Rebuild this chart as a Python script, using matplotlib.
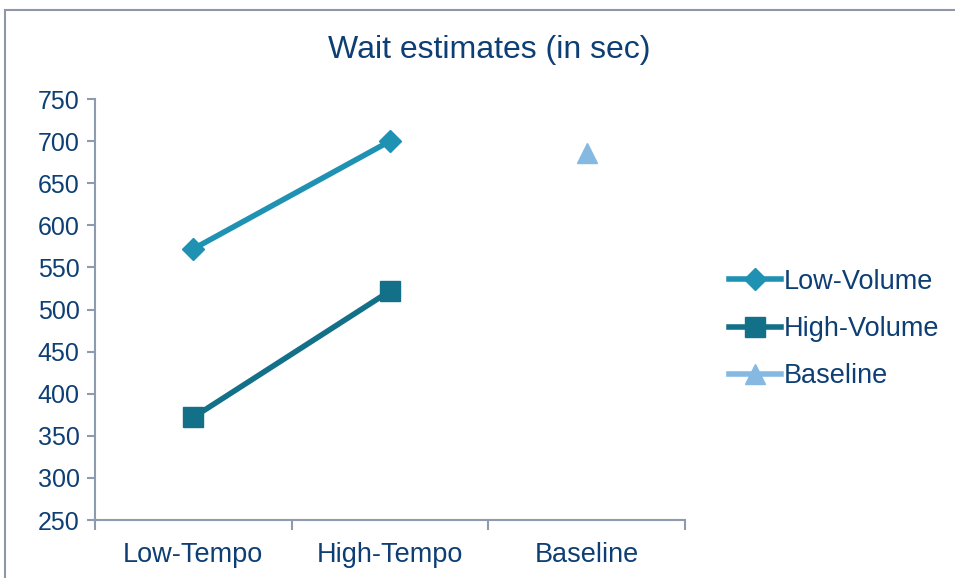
import matplotlib
matplotlib.use("Agg")
import matplotlib.pyplot as plt
from matplotlib.patches import Rectangle

categories = ["Low-Tempo", "High-Tempo", "Baseline"]
low_volume = [572, 700]
high_volume = [372, 522]
baseline = [686]
yticks = [250, 300, 350, 400, 450, 500, 550, 600, 650, 700, 750]

txt = "#0d3f74"
axc = "#8d9bb1"
c_low = "#1f92b4"
c_high = "#137089"
c_base = "#86b9e2"

plt.rcParams['font.family'] = ['Liberation Sans', 'DejaVu Sans']

W, H = 955, 578
fig = plt.figure(figsize=(W/100, H/100), dpi=100)
fig.patches.append(Rectangle((5/W, -0.1), 1.2, (H-10)/H + 0.1, transform=fig.transFigure,
                             fill=False, edgecolor="#8e97a6", linewidth=1.5))

ax = fig.add_axes([95/W, 1-520/H, (685-95)/W, (520-99)/H])
x = [0, 1, 2]
ax.plot(x[:2], low_volume, color=c_low, lw=4, marker='D', ms=11, label="Low-Volume")
ax.plot(x[:2], high_volume, color=c_high, lw=4, marker='s', ms=15, label="High-Volume")
ax.plot(x[2:], baseline, color=c_base, lw=4, marker='^', ms=15, linestyle='-', label="Baseline")

ax.set_xlim(-0.5, 2.5)
ax.set_ylim(250, 750)
ax.set_yticks(yticks)
ax.set_xticks(x)
ax.set_xticklabels(categories)
ax.set_xticks([-0.5, 0.5, 1.5, 2.5], minor=True)
ax.tick_params(axis='x', which='major', length=0, pad=16, labelsize=19.5, labelcolor=txt)
ax.tick_params(axis='x', which='minor', length=7, width=1.5, color=axc, direction='out')
ax.tick_params(axis='y', length=6, width=1.5, color=axc, labelsize=18, labelcolor=txt, pad=5)
for s in ['top', 'right']:
    ax.spines[s].set_visible(False)
for s in ['left', 'bottom']:
    ax.spines[s].set_color(axc)
    ax.spines[s].set_linewidth(1.5)

fig.text(489/W, 1-50/H, "Wait estimates (in sec)", ha='center', va='center', fontsize=23, color=txt)

leg = fig.legend(loc='center left', bbox_to_anchor=(705/W, 1-329/H), frameon=False,
                 fontsize=19.5, labelcolor=txt, handlelength=1.9, handletextpad=0.1,
                 labelspacing=0.78)

fig.savefig("out.png", dpi=100)
